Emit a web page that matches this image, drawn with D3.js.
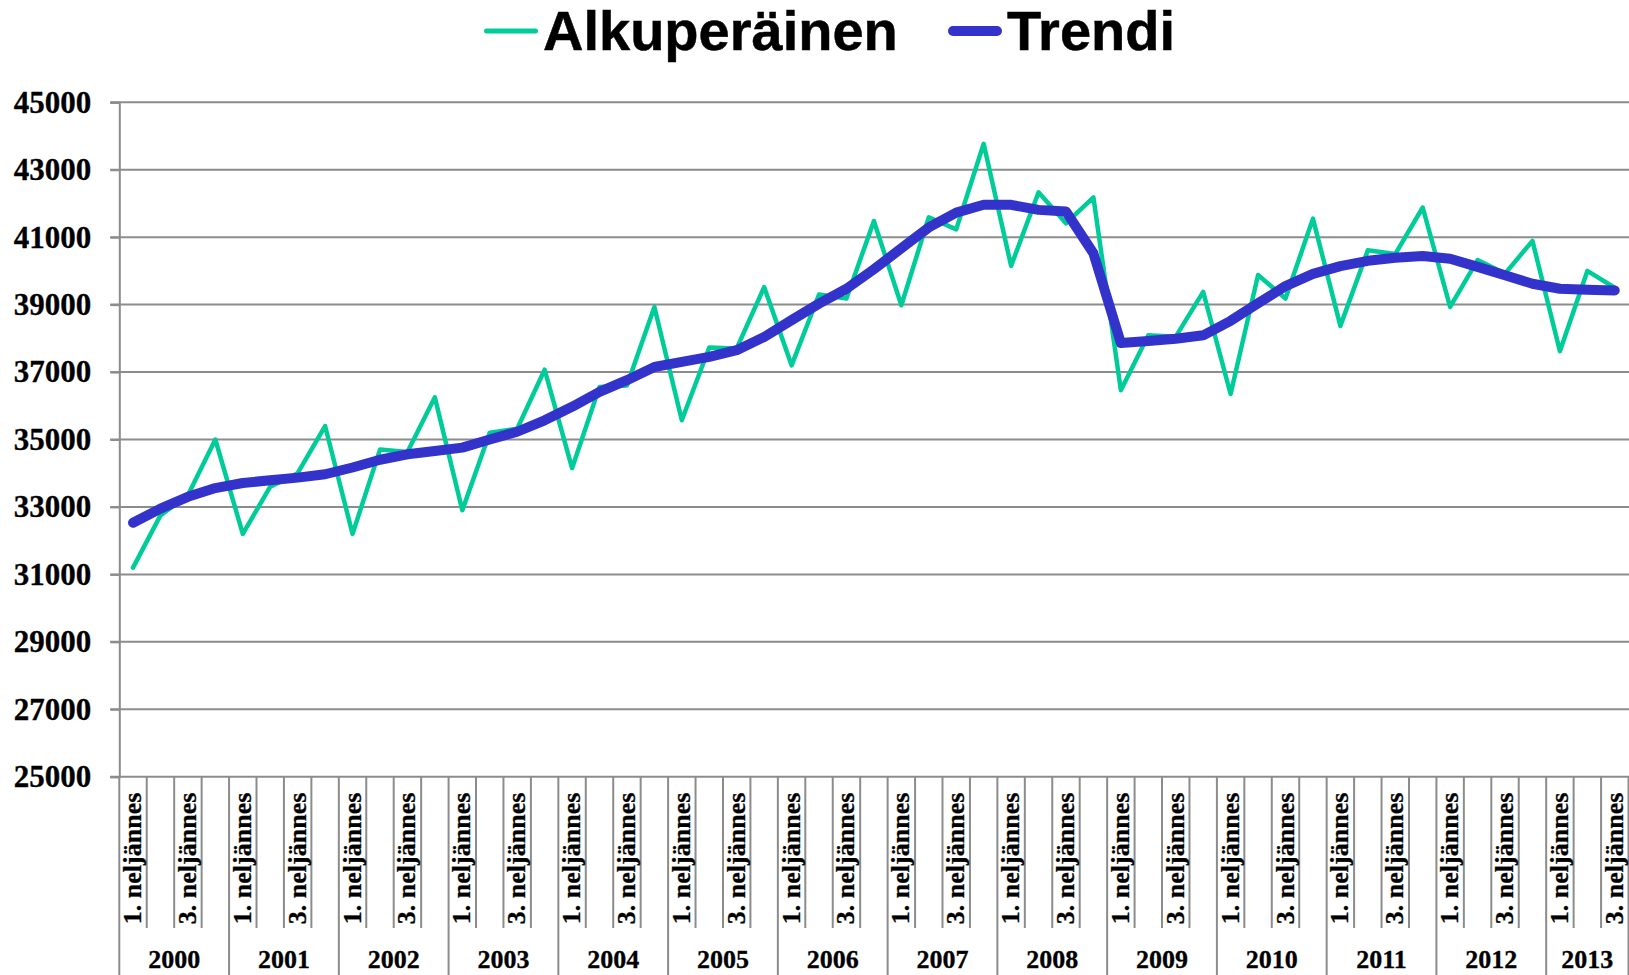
<!DOCTYPE html>
<html>
<head>
<meta charset="utf-8">
<script src="https://cdn.jsdelivr.net/npm/d3@7"></script>
<style>
    body { margin: 0; background: #fff; }
    svg { display: block; }
</style>
</head>
<body>
<svg id="chart" width="1629" height="975"></svg>
<script>
const years = [2000, 2001, 2002, 2003, 2004, 2005, 2006, 2007, 2008, 2009, 2010, 2011, 2012, 2013];
const quarterNames = ["1. neljännes", "2. neljännes", "3. neljännes", "4. neljännes"];
const quartersInLastYear = 3;

const original = [
    31200, 32750, 33350, 35000,
    32200, 33600, 34000, 35400,
    32200, 34700, 34630, 36250,
    32900, 35200, 35320, 37070,
    34150, 36560, 36600, 38930,
    35570, 37730, 37700, 39520,
    37200, 39300, 39180, 41480,
    38980, 41590, 41230, 43770,
    40150, 42330, 41410, 42180,
    36460, 38090, 38050, 39380,
    36350, 39880, 39180, 41550,
    38370, 40610, 40500, 41880,
    38930, 40320, 39920, 40890,
    37620, 40000, 39500
];

const trend = [
    32530, 32950, 33300, 33560,
    33710, 33790, 33870, 33970,
    34170, 34400, 34560, 34660,
    34760, 35000, 35230, 35570,
    35970, 36410, 36760, 37150,
    37300, 37450, 37650, 38040,
    38540, 39030, 39470, 40050,
    40670, 41290, 41730, 41960,
    41960, 41810, 41760, 40520,
    37860, 37920, 37990, 38090,
    38520, 39040, 39550, 39910,
    40140, 40300, 40390, 40440,
    40360, 40120, 39870, 39620,
    39470, 39440, 39420
];

const yTicks = [25000, 27000, 29000, 31000, 33000, 35000, 37000, 39000, 41000, 43000, 45000];

const seriesNames = ["Alkuperäinen", "Trendi"];
const seriesColors = ["#00cc99", "#3333cc"];

// categories: year x quarter, last year only partly
const categories = [];
years.forEach((yr, yi) => {
    const n = yi === years.length - 1 ? quartersInLastYear : quarterNames.length;
    for (let q = 0; q < n; q++) {
        categories.push({ key: yr + "-" + q, year: yr, q: q, label: quarterNames[q] });
    }
});

const svg = d3.select("#chart");
const plotLeft = 119.3, plotRight = 1628.5, plotTop = 102.3, plotBottom = 776.7;
const gridColor = "#8c8c8c";
const serif = "'Liberation Serif', 'Times New Roman', serif";

const x = d3.scaleBand()
    .domain(categories.map(d => d.key))
    .range([plotLeft, plotRight])
    .padding(0);

const y = d3.scaleLinear()
    .domain([25000, 45000])
    .range([plotBottom, plotTop]);

// horizontal gridlines
svg.append("g")
    .selectAll("line")
    .data(yTicks)
    .enter()
    .append("line")
    .attr("x1", plotLeft - 9)
    .attr("x2", 1629)
    .attr("y1", d => y(d))
    .attr("y2", d => y(d))
    .attr("stroke", gridColor)
    .attr("stroke-width", 2);

// y axis
const yAxis = svg.append("g")
    .attr("transform", `translate(${plotLeft},0)`)
    .call(d3.axisLeft(y).tickValues(yTicks).tickSize(9).tickPadding(19).tickFormat(d3.format("d")));
yAxis.select(".domain").attr("stroke", gridColor).attr("stroke-width", 2);
yAxis.selectAll(".tick line").attr("stroke", gridColor).attr("stroke-width", 2);
yAxis.selectAll(".tick text")
    .attr("fill", "#000")
    .attr("stroke", "#000")
    .attr("stroke-width", 0.3)
    .style("font-family", serif)
    .style("font-weight", "bold")
    .style("font-size", "31px");

// category boundaries: short ticks for quarters, long ones for years
const bounds = categories.map(d => ({ x: x(d.key), yearStart: d.q === 0 }));
bounds.push({ x: plotRight, yearStart: true });

svg.append("g")
    .selectAll("line")
    .data(bounds)
    .enter()
    .append("line")
    .attr("x1", d => d.x)
    .attr("x2", d => d.x)
    .attr("y1", plotBottom)
    .attr("y2", d => d.yearStart ? 975 : 928)
    .attr("stroke", gridColor)
    .attr("stroke-width", 2);

// quarter labels (every other one shown)
svg.append("g")
    .selectAll("text")
    .data(categories.filter((d, i) => i % 2 === 0))
    .enter()
    .append("text")
    .attr("transform", d => `translate(${x(d.key) + x.bandwidth() / 2 + 8},${plotBottom + 16}) rotate(-90)`)
    .attr("text-anchor", "end")
    .attr("stroke", "#000")
    .attr("stroke-width", 0.3)
    .style("font-family", serif)
    .style("font-weight", "bold")
    .style("font-size", "26px")
    .text(d => d.label);

// year labels
svg.append("g")
    .selectAll("text")
    .data(years)
    .enter()
    .append("text")
    .attr("x", yr => {
        const cats = categories.filter(c => c.year === yr);
        const x0 = x(cats[0].key);
        const x1 = x(cats[cats.length - 1].key) + x.bandwidth();
        return (x0 + x1) / 2;
    })
    .attr("y", 968)
    .attr("text-anchor", "middle")
    .attr("stroke", "#000")
    .attr("stroke-width", 0.3)
    .style("font-family", serif)
    .style("font-weight", "bold")
    .style("font-size", "26px")
    .text(yr => yr);

// lines
const line = d3.line()
    .x((d, i) => x(categories[i].key) + x.bandwidth() / 2)
    .y(d => y(d));

svg.append("path")
    .datum(original)
    .attr("fill", "none")
    .attr("stroke", seriesColors[0])
    .attr("stroke-width", 4.5)
    .attr("stroke-linejoin", "round")
    .attr("stroke-linecap", "round")
    .attr("d", line);

svg.append("path")
    .datum(trend)
    .attr("fill", "none")
    .attr("stroke", seriesColors[1])
    .attr("stroke-width", 10)
    .attr("stroke-linejoin", "round")
    .attr("stroke-linecap", "round")
    .attr("d", line);

// legend
const legend = [
    { name: seriesNames[0], color: seriesColors[0], width: 5, x: 484 },
    { name: seriesNames[1], color: seriesColors[1], width: 10, x: 948 }
];
const lg = svg.append("g");
legend.forEach(d => {
    lg.append("line")
        .attr("x1", d.x + d.width / 2)
        .attr("x2", d.x + 54 - d.width / 2)
        .attr("y1", 31)
        .attr("y2", 31)
        .attr("stroke", d.color)
        .attr("stroke-width", d.width)
        .attr("stroke-linecap", "round");
    lg.append("text")
        .attr("x", d.x + 59)
        .attr("y", 50)
        .attr("stroke", "#000")
        .attr("stroke-width", 0.5)
        .style("font-family", "'Liberation Sans', Arial, sans-serif")
        .style("font-weight", "bold")
        .style("font-size", "56px")
        .text(d.name);
});
</script>
</body>
</html>
